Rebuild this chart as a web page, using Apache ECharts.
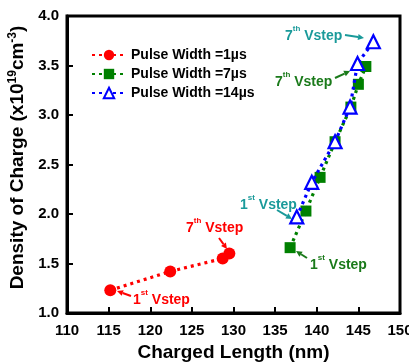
<!DOCTYPE html>
<html><head><meta charset="utf-8">
<script src="https://cdn.jsdelivr.net/npm/echarts@6/dist/echarts.min.js"></script>
<style>html,body{margin:0;padding:0;background:#fff}#c{width:409px;height:363px}</style>
</head><body><div id="c"></div>
<script>
const seriesNames = ['Pulse Width =1\u00b5s', 'Pulse Width =7\u00b5s', 'Pulse Width =14\u00b5s'];
const pw1 = [[115.2, 1.23], [122.4, 1.42], [128.7, 1.55], [129.5, 1.60]];
const pw7 = [[136.8, 1.66], [138.7, 2.03], [140.4, 2.37], [142.2, 2.73], [144.1, 3.08], [145.0, 3.31], [145.9, 3.49]];
const pw14 = [[137.6, 1.97], [139.4, 2.32], [142.2, 2.73], [144.0, 3.08], [144.9, 3.52], [146.8, 3.74]];
const xTicks = [110, 115, 120, 125, 130, 135, 140, 145, 150];
const yTicks = [1.0, 1.5, 2.0, 2.5, 3.0, 3.5, 4.0];

const FONT = '"Liberation Sans", Arial, sans-serif';
const chart = echarts.init(document.getElementById('c'), null, {renderer: 'canvas'});

function dotted(color) {
  return {color: color, width: 3.2, type: [3, 4]};
}

const option = {
  animation: false,
  grid: {left: 67, right: 9, top: 16, bottom: 50, show: true, borderColor: '#000', borderWidth: 3,
         containLabel: false, outerBoundsMode: 'none'},
  legend: {
    left: 86, top: 43, orient: 'vertical', itemGap: 5, itemWidth: 34, itemHeight: 13,
    data: seriesNames,
    textStyle: {fontFamily: FONT, fontWeight: 'bold', fontSize: 14, color: '#000'}
  },
  xAxis: {
    type: 'value', min: xTicks[0], max: xTicks[xTicks.length - 1], interval: 5,
    name: 'Charged Length (nm)', nameLocation: 'middle', nameGap: 27,
    nameTextStyle: {fontFamily: FONT, fontWeight: 'bold', fontSize: 19, color: '#000'},
    axisLine: {lineStyle: {color: '#000', width: 3}},
    axisTick: {inside: true, length: 6, lineStyle: {color: '#000', width: 2}},
    axisLabel: {fontFamily: FONT, fontWeight: 'bold', fontSize: 15, color: '#000', margin: 10},
    splitLine: {show: false}
  },
  yAxis: {
    type: 'value', min: yTicks[0], max: yTicks[yTicks.length - 1], interval: 0.5,
    name: '{n|Density of Charge (x10}{s|19}{n|cm}{s|-3}{n|)}',
    nameLocation: 'middle', nameGap: 31, nameRotate: 90,
    nameTextStyle: {
      fontFamily: FONT, fontWeight: 'bold', fontSize: 19, color: '#000', padding: [0, 0, 0, 14],
      rich: {
        n: {fontFamily: FONT, fontWeight: 'bold', fontSize: 19, color: '#000', verticalAlign: 'bottom', lineHeight: 21},
        s: {fontFamily: FONT, fontWeight: 'bold', fontSize: 12, color: '#000', verticalAlign: 'top', lineHeight: 21}
      }
    },
    axisLine: {lineStyle: {color: '#000', width: 3}},
    axisTick: {inside: true, length: 6, lineStyle: {color: '#000', width: 2}},
    axisLabel: {fontFamily: FONT, fontWeight: 'bold', fontSize: 15, color: '#000', margin: 8,
      formatter: v => v.toFixed(1)},
    splitLine: {show: false}
  },
  series: [
    {name: seriesNames[0], type: 'line', data: pw1, symbol: 'circle', symbolSize: 12,
     itemStyle: {color: '#ff0000'}, lineStyle: dotted('#ff0000'), z: 3},
    {name: seriesNames[1], type: 'line', data: pw7, symbol: 'rect', symbolSize: 11,
     itemStyle: {color: '#008000'}, lineStyle: dotted('#008000'), z: 3},
    {name: seriesNames[2], type: 'line', data: pw14, symbol: 'triangle', symbolSize: 13,
     itemStyle: {color: '#ffffff', borderColor: '#0000ff', borderWidth: 2.2},
     lineStyle: dotted('#0000ff'), z: 4}
  ]
};
chart.setOption(option);

// annotation label positions and arrows (pixels)
const annotations = [
  {t: '7', s: 'th', color: '#ff0000', left: 186, y: 226, ax1: 219, ay1: 238, ax2: 227, ay2: 249},
  {t: '1', s: 'st', color: '#ff0000', left: 133, y: 298, ax1: 131, ay1: 296, ax2: 117, ay2: 291},
  {t: '1', s: 'st', color: '#1a9a9a', left: 240, y: 203, ax1: 277, ay1: 210, ax2: 292, ay2: 219},
  {t: '1', s: 'st', color: '#1a7a1a', left: 310, y: 263, ax1: 307, ay1: 258, ax2: 296, ay2: 251},
  {t: '7', s: 'th', color: '#1a7a1a', left: 275, y: 80, ax1: 335, ay1: 78, ax2: 350, ay2: 71},
  {t: '7', s: 'th', color: '#1a9a9a', left: 285, y: 34, ax1: 345, ay1: 35, ax2: 364, ay2: 38}
];

const graphics = [];
annotations.forEach(a => {
  graphics.push({
    type: 'text', left: a.left, top: a.y - 9, z: 10,
    style: {
      text: '{n|' + a.t + '}{s|' + a.s + '}{n| Vstep}',
      rich: {
        n: {fontFamily: FONT, fontWeight: 'bold', fontSize: 14, fill: a.color, verticalAlign: 'bottom', lineHeight: 18},
        s: {fontFamily: FONT, fontWeight: 'bold', fontSize: 8, fill: a.color, verticalAlign: 'top', lineHeight: 18}
      }
    }
  });
  const dx = a.ax2 - a.ax1, dy = a.ay2 - a.ay1;
  const L = Math.sqrt(dx * dx + dy * dy), ux = dx / L, uy = dy / L;
  const hl = 6, hw = 3;
  const bx = a.ax2 - ux * hl, by = a.ay2 - uy * hl;
  graphics.push({type: 'line', z: 10, shape: {x1: a.ax1, y1: a.ay1, x2: bx, y2: by},
    style: {stroke: a.color, lineWidth: 2}});
  graphics.push({type: 'polygon', z: 10, shape: {points: [[a.ax2, a.ay2], [bx - uy * hw, by + ux * hw], [bx + uy * hw, by - ux * hw]]},
    style: {fill: a.color}});
});
chart.setOption({graphic: graphics});
</script></body></html>
